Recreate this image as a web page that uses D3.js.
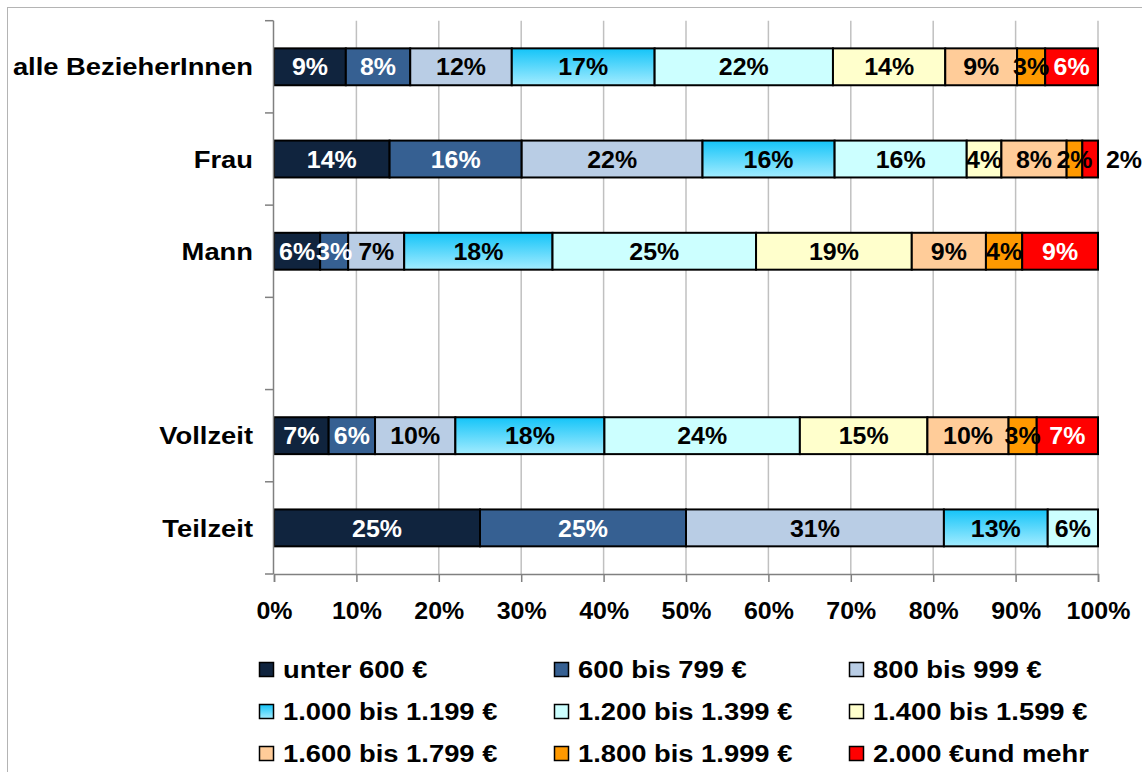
<!DOCTYPE html>
<html>
<head>
<meta charset="utf-8">
<script src="https://cdn.jsdelivr.net/npm/d3@7"></script>
<style>
  body { margin: 0; background: #fff; }
  svg text { font-family: "Liberation Sans", Arial, sans-serif; font-weight: bold; }
</style>
</head>
<body>
<svg id="chart"></svg>
<script>
// Rows of the chart (empty string = gap row between gender and working time)
const categories = ['alle BezieherInnen', 'Frau', 'Mann', '', 'Vollzeit', 'Teilzeit'];

// Income brackets (stack order, left to right)
const brackets = ['unter 600 €', '600 bis 799 €', '800 bis 999 €', '1.000 bis 1.199 €',
  '1.200 bis 1.399 €', '1.400 bis 1.599 €', '1.600 bis 1.799 €', '1.800 bis 1.999 €', '2.000 €und mehr'];

// Shares in % per row
const alleValues     = [8.7, 7.8, 12.3, 17.3, 21.6, 13.6, 8.7, 3.4, 6.4];
const frauValues     = [14.0, 16.0, 21.9, 16.0, 16.0, 4.2, 7.9, 1.9, 1.9];
const mannValues     = [5.6, 3.4, 6.8, 18.0, 24.7, 18.9, 9.0, 4.4, 9.2];
const gapValues      = [0, 0, 0, 0, 0, 0, 0, 0, 0];
const vollzeitValues = [6.6, 5.6, 9.7, 18.0, 23.6, 15.4, 9.8, 3.4, 7.4];
const teilzeitValues = [25.0, 25.0, 31.3, 12.6, 6.1, 0, 0, 0, 0];

const xTicks = [0, 0.1, 0.2, 0.3, 0.4, 0.5, 0.6, 0.7, 0.8, 0.9, 1];

const colors = ['#10243e', '#366092', '#b9cde5', 'url(#grad-cyan)', '#ccffff',
  '#ffffcc', '#ffcc99', '#ff9900', '#ff0000'];
const whiteLabels = [true, true, false, false, false, false, false, false, true];

const rows = [alleValues, frauValues, mannValues, gapValues, vollzeitValues, teilzeitValues];

class StackedBarChart {

  constructor(_config, _data) {
    this.config = {
      parentElement: _config.parentElement,
      containerWidth: _config.containerWidth || 1142,
      containerHeight: _config.containerHeight || 772,
      margin: _config.margin || { top: 20.7, right: 44, bottom: 198, left: 274 },
      // the original text is a bit wider than the installed Arial clone
      valueStretch: 1.04,
      sideStretch: 1.14
    }
    this.data = _data;
    this.initVis();
  }

  initVis() {
    let vis = this;

    vis.width = vis.config.containerWidth - vis.config.margin.left - vis.config.margin.right;
    vis.height = vis.config.containerHeight - vis.config.margin.top - vis.config.margin.bottom;

    vis.xScale = d3.scaleLinear()
      .domain([0, 1])
      .range([0, vis.width]);

    vis.yScale = d3.scaleBand()
      .domain(categories)
      .range([0, vis.height])
      .paddingInner(0.6)
      .paddingOuter(0.3);

    vis.svg = d3.select(vis.config.parentElement)
      .attr('width', vis.config.containerWidth)
      .attr('height', vis.config.containerHeight);

    // gradient for the 1.000 - 1.199 bracket
    let grad = vis.svg.append('defs').append('linearGradient')
      .attr('id', 'grad-cyan')
      .attr('x1', 0).attr('y1', 0).attr('x2', 0).attr('y2', 1);
    grad.append('stop').attr('offset', '0%').attr('stop-color', '#14c4f8');
    grad.append('stop').attr('offset', '100%').attr('stop-color', '#a3ecff');

    // outer chart border
    vis.svg.append('rect')
      .attr('x', 7.5).attr('y', 7.5)
      .attr('width', vis.config.containerWidth)
      .attr('height', vis.config.containerHeight)
      .attr('fill', 'none')
      .attr('stroke', '#b4b4b4');

    vis.chart = vis.svg.append('g')
      .attr('transform', `translate(${vis.config.margin.left},${vis.config.margin.top})`);

    vis.gridG = vis.chart.append('g').attr('class', 'grid');
    vis.barsG = vis.chart.append('g').attr('class', 'bars');
    vis.labelsG = vis.chart.append('g').attr('class', 'labels');

    vis.xAxis = d3.axisBottom(vis.xScale)
      .tickValues(xTicks)
      .tickSize(8)
      .tickPadding(20)
      .tickFormat(d3.format('.0%'));

    vis.xAxisG = vis.chart.append('g')
      .attr('class', 'axis x-axis')
      .attr('transform', `translate(0,${vis.height})`);

    vis.yAxisG = vis.chart.append('g')
      .attr('class', 'axis y-axis');

    vis.legendG = vis.svg.append('g')
      .attr('class', 'legend')
      .attr('transform', 'translate(259,669)');
  }

  updateVis() {
    let vis = this;

    vis.table = categories.map((c, i) => {
      let row = { category: c };
      brackets.forEach((b, j) => row[b] = vis.data[i][j]);
      return row;
    });

    vis.series = d3.stack()
      .keys(brackets)
      .offset(d3.stackOffsetExpand)(vis.table);

    vis.renderVis();
  }

  renderVis() {
    let vis = this;
    let step = vis.yScale.step();
    let sv = vis.config.valueStretch;
    let ss = vis.config.sideStretch;

    // vertical gridlines
    vis.gridG.selectAll('line')
      .data(xTicks.slice(1))
      .join('line')
      .attr('x1', d => vis.xScale(d))
      .attr('x2', d => vis.xScale(d))
      .attr('y1', 0)
      .attr('y2', vis.height)
      .attr('stroke', '#c0c0c0')
      .attr('stroke-width', 1.5);

    // segments
    let segs = [];
    vis.series.forEach((s, k) => {
      s.forEach((d, i) => {
        let raw = vis.data[i][k];
        if (raw > 0) segs.push({ k: k, cat: categories[i], x0: d[0], x1: d[1], raw: raw });
      });
    });

    vis.barsG.selectAll('rect')
      .data(segs)
      .join('rect')
      .attr('x', d => vis.xScale(d.x0))
      .attr('y', d => vis.yScale(d.cat))
      .attr('width', d => vis.xScale(d.x1) - vis.xScale(d.x0))
      .attr('height', vis.yScale.bandwidth())
      .attr('fill', d => colors[d.k])
      .attr('stroke', '#000')
      .attr('stroke-width', 2);

    // value labels; a tiny last segment gets its label right of the bar
    let outside = d => d.k === brackets.length - 1 && d.raw < 2.5;
    let labelX = d => outside(d) ? vis.xScale(1) + 8 : (vis.xScale(d.x0) + vis.xScale(d.x1)) / 2;
    let labelY = d => vis.yScale(d.cat) + vis.yScale.bandwidth() / 2;
    vis.labelsG.selectAll('text')
      .data(segs)
      .join('text')
      .attr('transform', d => `translate(${labelX(d)},${labelY(d)}) scale(${sv},1)`)
      .attr('dy', '0.36em')
      .attr('text-anchor', d => outside(d) ? 'start' : 'middle')
      .attr('font-size', 24)
      .attr('fill', d => (whiteLabels[d.k] && !outside(d)) ? '#fff' : '#000')
      .text(d => Math.round(d.raw) + '%');

    // x axis
    vis.xAxisG
      .call(vis.xAxis)
      .call(g => g.select('.domain').attr('stroke', '#808080').attr('stroke-width', 1.5))
      .call(g => g.selectAll('.tick line').attr('stroke', '#808080').attr('stroke-width', 1.5))
      .call(g => g.selectAll('.tick text')
        .attr('font-size', 24)
        .attr('fill', '#000')
        .attr('transform', `scale(${sv},1)`)
        .attr('font-family', '"Liberation Sans", Arial, sans-serif'));

    // y axis: line, ticks on slot boundaries, category names
    vis.yAxisG.append('line')
      .attr('x1', -0.5).attr('x2', -0.5)
      .attr('y1', 0).attr('y2', vis.height)
      .attr('stroke', '#808080')
      .attr('stroke-width', 1.5);

    vis.yAxisG.selectAll('.ytick')
      .data(d3.range(categories.length + 1))
      .join('line')
      .attr('class', 'ytick')
      .attr('x1', -9).attr('x2', -0.5)
      .attr('y1', i => i * step)
      .attr('y2', i => i * step)
      .attr('stroke', '#808080')
      .attr('stroke-width', 1.5);

    vis.yAxisG.selectAll('.ylabel')
      .data(categories)
      .join('text')
      .attr('class', 'ylabel')
      .attr('transform', d => `translate(-21,${vis.yScale(d) + vis.yScale.bandwidth() / 2}) scale(${ss},1)`)
      .attr('dy', '0.36em')
      .attr('text-anchor', 'end')
      .attr('font-size', 24)
      .text(d => d);

    // legend, 3 columns
    let item = vis.legendG.selectAll('.item')
      .data(brackets)
      .join('g')
      .attr('class', 'item')
      .attr('transform', (d, i) => `translate(${(i % 3) * 295},${Math.floor(i / 3) * 42})`);

    item.append('rect')
      .attr('x', 0.5).attr('y', -6.5)
      .attr('width', 14).attr('height', 14)
      .attr('fill', (d, i) => colors[i])
      .attr('stroke', '#000')
      .attr('stroke-width', 1.5);

    item.append('text')
      .attr('transform', `translate(24,0) scale(${ss},1)`)
      .attr('dy', '0.36em')
      .attr('font-size', 24)
      .text(d => d);
  }
}

let chart = new StackedBarChart({ parentElement: '#chart' }, rows);
chart.updateVis();
</script>
</body>
</html>
